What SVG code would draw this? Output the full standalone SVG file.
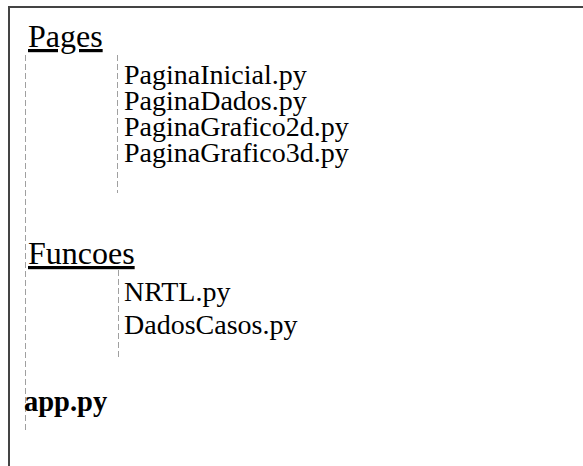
<svg xmlns="http://www.w3.org/2000/svg" width="583" height="466" viewBox="0 0 583 466">
<style>
text{font-family:"Liberation Serif","Times New Roman",serif;font-size:28px;fill:#000}
.h{text-decoration:underline;font-size:32px}
.b{font-weight:bold;font-size:28.5px}
.d{stroke:#a0a0a0;stroke-width:1;stroke-dasharray:6,3;fill:none}
.frame{stroke:#444;stroke-width:2;fill:none}
</style>
<rect width="583" height="466" fill="#fff"/>
<path class="frame" d="M9,466 V7 H583"/>
<g id="connectors">
<line class="d" x1="25.5" y1="55" x2="25.5" y2="432"/>
<line class="d" x1="117.5" y1="55" x2="117.5" y2="193"/>
<line class="d" x1="118.5" y1="270" x2="118.5" y2="359"/>
</g>
<g id="pages"><text class="h" x="28" y="47">Pages</text></g>
<g id="paginainicial"><text x="124" y="84">PaginaInicial.py</text></g>
<g id="paginadados"><text x="124" y="110">PaginaDados.py</text></g>
<g id="paginagrafico2d"><text x="124" y="136">PaginaGrafico2d.py</text></g>
<g id="paginagrafico3d"><text x="124" y="162">PaginaGrafico3d.py</text></g>
<g id="funcoes"><text class="h" x="28" y="264">Funcoes</text></g>
<g id="nrtl"><text x="124" y="301">NRTL.py</text></g>
<g id="dadoscasos"><text x="124" y="334">DadosCasos.py</text></g>
<g id="app"><text class="b" x="24" y="411">app.py</text></g>
</svg>
